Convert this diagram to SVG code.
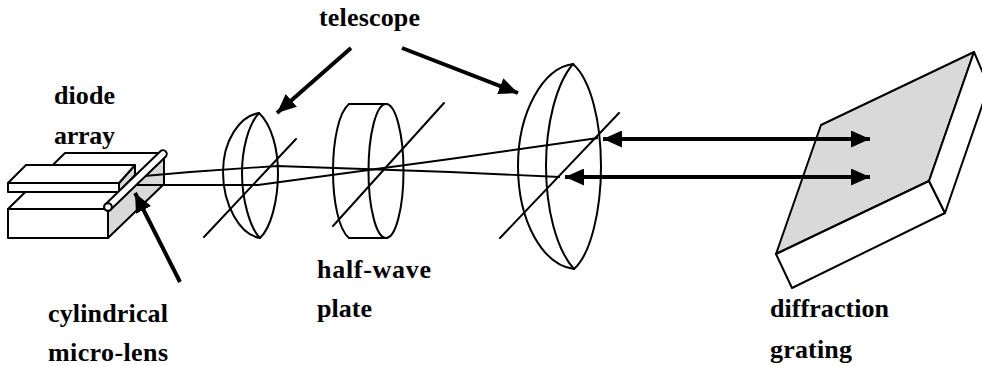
<svg xmlns="http://www.w3.org/2000/svg" width="982" height="366" viewBox="0 0 982 366">
<defs>
<marker id="head" viewBox="0 0 19 17" refX="19" refY="8.5" markerUnits="userSpaceOnUse" markerWidth="19" markerHeight="17" orient="auto-start-reverse"><path d="M0,0 L19,8.5 L0,17 Z" fill="#000"/></marker>
</defs>
<style>
.l{fill:none;stroke:#000;stroke-width:2;stroke-linejoin:round;stroke-linecap:round}
.w{fill:#fff;stroke:#000;stroke-width:2;stroke-linejoin:round}
.g{fill:#d9d9d9;stroke:#000;stroke-width:2;stroke-linejoin:round}
.r{fill:none;stroke:#000;stroke-width:1.8}
.a{fill:none;stroke:#000;stroke-width:4}
.t{font-family:"Liberation Serif","Times New Roman",serif;font-weight:bold;font-size:26px;fill:#000}
</style>
<rect width="982" height="366" fill="#fff"/>
<g id="diode-array">
<path class="g" d="M108,209 L164,158 L164,184 L108,238 Z"/>
<path class="w" d="M8,209 L65,153 L164,153 L164,158 L108,209 Z"/>
<rect class="w" x="8" y="209" width="100" height="29"/>
<path class="g" d="M119,183 L135,165 L135,175 L119,192 Z"/>
<path class="w" d="M8,183 L26,165 L135,165 L119,183 Z"/>
<rect class="w" x="8" y="183" width="111" height="9"/>
</g>
<g id="connectors">
<path class="r" d="M133,177 L190,172 L277,166 L450,172 L560,177"/>
<path class="r" d="M127,185 L258,185 L450,159 L598,138"/>
</g>
<g id="micro-lens">
<path d="M108,207 L163,154" fill="none" stroke="#000" stroke-width="9.5" stroke-linecap="round"/>
<path d="M108,207 L163,154" fill="none" stroke="#fff" stroke-width="5.5" stroke-linecap="round"/>
<circle cx="108" cy="207" r="3.8" fill="#fff" stroke="#000" stroke-width="2"/>
</g>
<g id="lens-1">
<path class="l" d="M259,113 C240,116 223,140 223,172 C223,205 240,235 260,238"/>
<path class="l" d="M259,113 C248,125 242,150 242,173 C242,200 250,228 260,238"/>
<path class="l" d="M259,113 C272,125 278,150 278,173 C278,200 271,228 260,238"/>
<path class="l" d="M204,237 L296,139"/>
</g>
<g id="half-wave-plate">
<path class="l" d="M349,104 L387,104 M349,238 L387,238"/>
<path class="l" d="M349,104 C339,112 333,140 333,171 C333,202 339,230 349,238"/>
<ellipse class="l" cx="386" cy="171" rx="17.5" ry="67"/>
<path class="l" d="M333,226 L444,103"/>
</g>
<g id="lens-2">
<path class="l" d="M573,64 C543,68 518,112 518,166 C518,222 543,265 574,269"/>
<path class="l" d="M573,64 C556,84 546,125 546,166 C546,208 556,249 574,269"/>
<path class="l" d="M573,64 C591,80 601,122 601,166 C601,210 591,254 574,269"/>
<path class="l" d="M500,238 L619,113"/>
</g>
<g id="grating">
<path class="g" d="M821,125 L974,52 L929,181 L776,254 Z"/>
<path class="w" d="M776,254 L929,181 L945,213 L792,288 Z"/>
<path class="w" d="M974,52 L983,73 L983,103 L945,213 L929,181 Z"/>
</g>
<g id="arrows">
<path class="a" d="M603,139 L870,139" marker-start="url(#head)" marker-end="url(#head)"/>
<path class="a" d="M565,177 L870,177" marker-start="url(#head)" marker-end="url(#head)"/>
<path class="a" d="M351,48 L277,113" marker-end="url(#head)"/>
<path class="a" d="M402,48 L518,93" marker-end="url(#head)"/>
<path class="a" d="M180,282 L135,193" marker-end="url(#head)"/>
</g>
<g id="labels">
<text class="t" x="319" y="26" textLength="101">telescope</text>
<text class="t" x="54" y="104" textLength="61">diode</text>
<text class="t" x="54" y="144" textLength="61">array</text>
<text class="t" x="317" y="278" textLength="114">half-wave</text>
<text class="t" x="317" y="317" textLength="55">plate</text>
<text class="t" x="48" y="322" textLength="120">cylindrical</text>
<text class="t" x="48" y="361" textLength="120">micro-lens</text>
<text class="t" x="770" y="317" textLength="119">diffraction</text>
<text class="t" x="770" y="358" textLength="82">grating</text>
</g>
</svg>
